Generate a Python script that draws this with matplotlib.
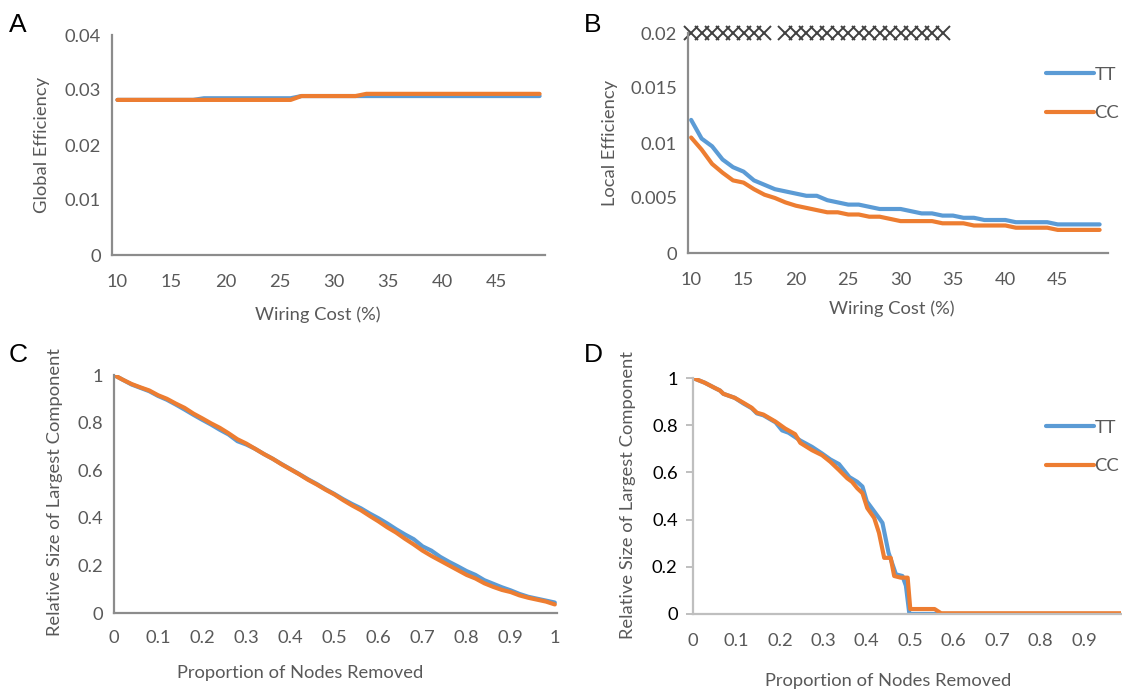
import matplotlib.pyplot as plt
import numpy as np

plt.rcParams['font.family'] = ['Lato', 'DejaVu Sans']

BLUE = '#5B9BD5'
ORANGE = '#ED7D31'
GRAY = '#595959'
AXC = '#8C8C8C'
FS = 13.2

# ---- panel A / B : wiring cost 10..49 %
cost = np.arange(10, 50)

glob_tt = [0.0282] * 8 + [0.0285] * 9 + [0.0289] * 23
glob_cc = [0.0282] * 17 + [0.0289] * 6 + [0.0293] * 17

loc_tt = [0.0121, 0.0104, 0.0097, 0.0085, 0.0078, 0.0074, 0.0066, 0.0062, 0.0058, 0.0056,
          0.0054, 0.0052, 0.0052, 0.0048, 0.0046, 0.0044, 0.0044, 0.0042, 0.0040, 0.0040,
          0.0040, 0.0038, 0.0036, 0.0036, 0.0034, 0.0034, 0.0032, 0.0032, 0.0030, 0.0030,
          0.0030, 0.0028, 0.0028, 0.0028, 0.0028, 0.0026, 0.0026, 0.0026, 0.0026, 0.0026]
loc_cc = [0.0105, 0.0094, 0.0081, 0.0073, 0.0066, 0.0064, 0.0058, 0.0053, 0.0050, 0.0046,
          0.0043, 0.0041, 0.0039, 0.0037, 0.0037, 0.0035, 0.0035, 0.0033, 0.0033, 0.0031,
          0.0029, 0.0029, 0.0029, 0.0029, 0.0027, 0.0027, 0.0027, 0.0025, 0.0025, 0.0025,
          0.0025, 0.0023, 0.0023, 0.0023, 0.0023, 0.0021, 0.0021, 0.0021, 0.0021, 0.0021]

# significance markers (cost levels)
sig_cost = [10, 11, 12, 13, 14, 15, 16, 17,
            19, 20, 21, 22, 23, 24, 25, 26, 27, 28, 29, 30, 31, 32, 33, 34]

# ---- panel C : random removal
prop_c = np.round(np.arange(0, 1.001, 0.02), 2)
size_c_cc = [1.000, 0.980, 0.962, 0.948, 0.935, 0.915, 0.900, 0.880, 0.862, 0.838,
             0.818, 0.797, 0.778, 0.755, 0.730, 0.712, 0.690, 0.668, 0.648, 0.625,
             0.604, 0.583, 0.560, 0.540, 0.518, 0.498, 0.474, 0.452, 0.432, 0.408,
             0.385, 0.360, 0.338, 0.312, 0.288, 0.262, 0.240, 0.220, 0.200, 0.180,
             0.160, 0.145, 0.125, 0.110, 0.097, 0.088, 0.074, 0.064, 0.056, 0.048, 0.036]
size_c_tt = [1.000, 0.980, 0.960, 0.946, 0.932, 0.912, 0.896, 0.876, 0.855, 0.833,
             0.812, 0.792, 0.770, 0.750, 0.722, 0.708, 0.690, 0.668, 0.648, 0.626,
             0.605, 0.584, 0.562, 0.542, 0.520, 0.500, 0.478, 0.458, 0.440, 0.418,
             0.398, 0.376, 0.352, 0.330, 0.310, 0.280, 0.262, 0.236, 0.215, 0.196,
             0.176, 0.160, 0.138, 0.123, 0.108, 0.095, 0.080, 0.068, 0.060, 0.052, 0.044]

# ---- panel D : targeted removal
prop_d_cc = [0.0, 0.027, 0.05, 0.062, 0.07, 0.096, 0.116, 0.135, 0.147, 0.162, 0.19, 0.212,
             0.235, 0.247, 0.274, 0.297, 0.316, 0.336, 0.355, 0.366, 0.378, 0.39, 0.401,
             0.417, 0.428, 0.44, 0.455, 0.463, 0.478, 0.494, 0.5, 0.556, 0.571, 0.985]
size_d_cc = [1.0, 0.98, 0.958, 0.947, 0.933, 0.916, 0.895, 0.874, 0.853, 0.845, 0.815, 0.786,
             0.762, 0.725, 0.694, 0.673, 0.645, 0.61, 0.575, 0.56, 0.533, 0.512, 0.449,
             0.407, 0.344, 0.238, 0.238, 0.161, 0.154, 0.154, 0.021, 0.021, 0.003, 0.003]
prop_d_tt = [0.0, 0.027, 0.05, 0.062, 0.07, 0.096, 0.116, 0.135, 0.147, 0.162, 0.19, 0.205,
             0.22, 0.247, 0.274, 0.297, 0.316, 0.336, 0.36, 0.378, 0.39, 0.40, 0.428,
             0.436, 0.45, 0.467, 0.482, 0.49, 0.498, 0.985]
size_d_tt = [1.0, 0.98, 0.958, 0.947, 0.933, 0.916, 0.892, 0.872, 0.850, 0.842, 0.812, 0.778,
             0.768, 0.735, 0.708, 0.680, 0.655, 0.635, 0.58, 0.56, 0.54, 0.477, 0.407,
             0.386, 0.26, 0.168, 0.161, 0.12, 0.0, 0.0]

W, H = 1122, 690
fig = plt.figure(figsize=(W / 100, H / 100), dpi=100)


def box(l, r, t, b):
    return [l / W, 1 - b / H, (r - l) / W, (b - t) / H]


def style(ax, col=AXC, lw=1.6):
    for s in ['top', 'right']:
        ax.spines[s].set_visible(False)
    for s in ['left', 'bottom']:
        ax.spines[s].set_color(col)
        ax.spines[s].set_linewidth(lw)
    ax.tick_params(length=0, labelsize=FS, labelcolor=GRAY, pad=8)


lw = 3.0

# A
axA = fig.add_axes(box(112, 545, 35, 255))
axA.plot(cost, glob_tt, color=BLUE, lw=lw, solid_capstyle='round')
axA.plot(cost, glob_cc, color=ORANGE, lw=lw, solid_capstyle='round')
axA.set_xlim(9.5, 49.5)
axA.set_ylim(0, 0.04)
axA.set_yticks([0, 0.01, 0.02, 0.03, 0.04])
axA.set_yticklabels(['0', '0.01', '0.02', '0.03', '0.04'])
axA.set_xticks(range(10, 50, 5))
style(axA)
axA.tick_params(axis='x', pad=14)
fig.text(42 / W, 1 - 145 / H, 'Global Efficiency', rotation=90, ha='center', va='center',
         fontsize=FS, color=GRAY)
fig.text(318 / W, 1 - 315 / H, 'Wiring Cost (%)', ha='center', va='center', fontsize=FS, color=GRAY)

# B
axB = fig.add_axes(box(688, 1108, 33, 253))
axB.plot(cost, loc_tt, color=BLUE, lw=lw, solid_capstyle='round', label='TT')
axB.plot(cost, loc_cc, color=ORANGE, lw=lw, solid_capstyle='round', label='CC')
axB.plot(sig_cost, [0.02] * len(sig_cost), 'x', color='#404040', ms=9.5, mew=1.4, clip_on=False)
axB.set_xlim(9.7, 49.8)
axB.set_ylim(0, 0.02)
axB.set_yticks([0, 0.005, 0.01, 0.015, 0.02])
axB.set_yticklabels(['0', '0.005', '0.01', '0.015', '0.02'])
axB.set_xticks(range(10, 50, 5))
style(axB)
axB.tick_params(axis='x', pad=14)
axB.legend(loc='center left', bbox_to_anchor=(1046 / W, 1 - 94 / H), bbox_transform=fig.transFigure,
           frameon=False, handlelength=2.6, handletextpad=0.05, labelspacing=1.25,
           fontsize=FS, labelcolor=GRAY, borderaxespad=0, borderpad=0)
fig.text(610 / W, 1 - 143 / H, 'Local Efficiency', rotation=90, ha='center', va='center',
         fontsize=FS, color=GRAY)
fig.text(892 / W, 1 - 309 / H, 'Wiring Cost (%)', ha='center', va='center', fontsize=FS, color=GRAY)

# C
axC = fig.add_axes(box(114, 557, 375, 613))
axC.plot(prop_c, size_c_tt, color=BLUE, lw=lw, solid_capstyle='round')
axC.plot(prop_c, size_c_cc, color=ORANGE, lw=lw, solid_capstyle='round')
axC.set_xlim(0, 1.005)
axC.set_ylim(0, 1)
axC.set_yticks([0, 0.2, 0.4, 0.6, 0.8, 1])
axC.set_yticklabels(['0', '0.2', '0.4', '0.6', '0.8', '1'])
axC.set_xticks(np.round(np.arange(0, 1.01, 0.1), 1))
axC.set_xticklabels(['0', '0.1', '0.2', '0.3', '0.4', '0.5', '0.6', '0.7', '0.8', '0.9', '1'])
style(axC)
axC.tick_params(axis='x', pad=12)
fig.text(55 / W, 1 - 492 / H, 'Relative Size of Largest Component', rotation=90, ha='center',
         va='center', fontsize=FS, color=GRAY)
fig.text(300 / W, 1 - 673 / H, 'Proportion of Nodes Removed', ha='center', va='center',
         fontsize=FS, color=GRAY)

# D
axD = fig.add_axes(box(693, 1121, 378, 614))
axD.plot(prop_d_tt, size_d_tt, color=BLUE, lw=lw, solid_capstyle='round', label='TT')
axD.plot(prop_d_cc, size_d_cc, color=ORANGE, lw=lw, solid_capstyle='round', label='CC')
axD.set_xlim(0, 0.985)
axD.set_ylim(0, 1)
axD.set_yticks([0, 0.2, 0.4, 0.6, 0.8, 1])
axD.set_yticklabels(['0', '0.2', '0.4', '0.6', '0.8', '1'])
axD.set_xticks(np.round(np.arange(0, 0.95, 0.1), 1))
axD.set_xticklabels(['0', '0.1', '0.2', '0.3', '0.4', '0.5', '0.6', '0.7', '0.8', '0.9'])
style(axD, col='#BFBFBF', lw=1.6)
axD.tick_params(axis='y', length=5, width=1.4, color='#BFBFBF', labelcolor='black', pad=6)
axD.tick_params(axis='x', pad=14)
axD.legend(loc='center left', bbox_to_anchor=(1046 / W, 1 - 447 / H), bbox_transform=fig.transFigure,
           frameon=False, handlelength=2.6, handletextpad=0.05, labelspacing=1.25,
           fontsize=FS, labelcolor=GRAY, borderaxespad=0, borderpad=0)
fig.text(628 / W, 1 - 495 / H, 'Relative Size of Largest Component', rotation=90, ha='center',
         va='center', fontsize=FS, color=GRAY)
fig.text(888 / W, 1 - 681 / H, 'Proportion of Nodes Removed', ha='center', va='center',
         fontsize=FS, color=GRAY)

# panel letters
for lab, x, y in [('A', 18, 25), ('B', 593, 25), ('C', 18, 355), ('D', 593, 355)]:
    fig.text(x / W, 1 - y / H, lab, ha='center', va='center', fontsize=19,
             family=['Liberation Sans', 'DejaVu Sans'])

fig.savefig('out.png', dpi=100)
